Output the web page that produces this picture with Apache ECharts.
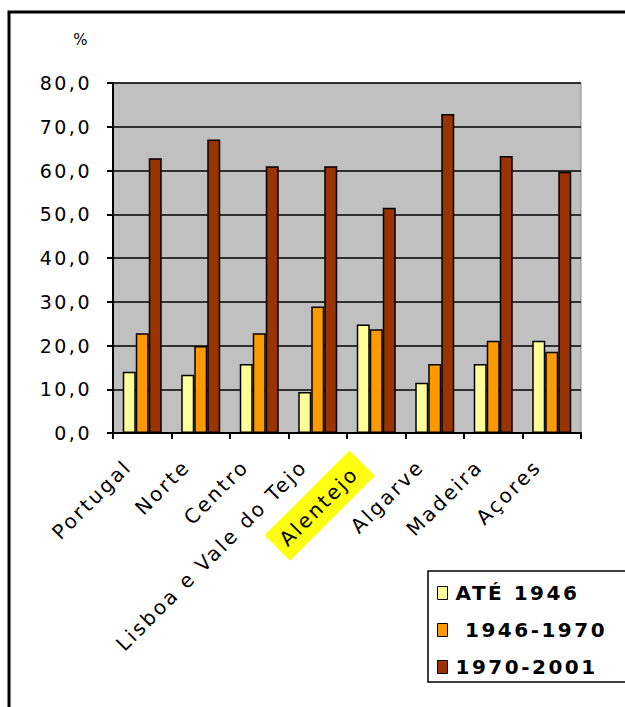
<!DOCTYPE html>
<html>
<head>
<meta charset="utf-8">
<script src="https://cdn.jsdelivr.net/npm/echarts@6/dist/echarts.min.js"></script>
<style>
  html, body { margin: 0; padding: 0; background: #fff; }
  #chart { width: 625px; height: 707px; }
  /* the labels are set in a wide, loosely tracked face */
  #chart svg text { letter-spacing: 2.5px; }
</style>
</head>
<body>
<div id="chart"></div>
<script>
// Regions and the share of buildings by construction period (%)
const regions = ['Portugal', 'Norte', 'Centro', 'Lisboa e Vale do Tejo', 'Alentejo', 'Algarve', 'Madeira', 'Açores'];
const seriesNames = ['ATÉ 1946', ' 1946-1970', '1970-2001'];
const ate1946 = [14.0, 13.3, 15.8, 9.4, 24.8, 11.5, 15.8, 21.1];
const p1946_1970 = [22.8, 19.9, 22.8, 28.9, 23.7, 15.8, 21.1, 18.6];
const p1970_2001 = [62.8, 67.1, 61.0, 61.0, 51.5, 72.9, 63.3, 59.7];
const highlighted = 'Alentejo';

const colors = ['#FFFF99', '#FF9900', '#993300'];
const values = [ate1946, p1946_1970, p1970_2001];

const chart = echarts.init(document.getElementById('chart'), null, { renderer: 'svg' });

const wideFont = '"DejaVu Sans", Verdana, sans-serif';

chart.setOption({
  animation: false,
  backgroundColor: '#fff',
  grid: {
    left: 113, top: 83, width: 468, height: 350,
    show: true, backgroundColor: '#c0c0c0', borderColor: '#8a8a8a', borderWidth: 1
  },
  legend: {
    orient: 'vertical',
    left: 437, top: 581, padding: 0,
    itemWidth: 10, itemHeight: 13, itemGap: 13,
    icon: 'rect',
    itemStyle: { borderColor: '#000', borderWidth: 1 },
    textStyle: {
      fontFamily: wideFont, fontWeight: 'bold', fontSize: 20, lineHeight: 24,
      color: '#000', padding: [0, 0, 0, 3]
    },
    data: seriesNames
  },
  xAxis: {
    type: 'category',
    data: regions,
    axisLine: { lineStyle: { color: '#000', width: 2 } },
    axisTick: { show: true, interval: 0, length: 6, lineStyle: { color: '#000', width: 2 } },
    axisLabel: {
      interval: 0, rotate: 45, margin: 16,
      fontFamily: wideFont, fontSize: 20, color: '#000',
      padding: [0, 20, 0, 0],
      formatter: v => v === highlighted ? '{hl|' + v + '}' : v,
      rich: {
        hl: {
          backgroundColor: '#ffff10', padding: [8, 10, 8, 28],
          fontFamily: wideFont, fontSize: 20, color: '#000'
        }
      }
    }
  },
  yAxis: {
    type: 'value',
    min: 0, max: 80, interval: 10,
    name: '%',
    nameLocation: 'end',
    nameGap: 36,
    nameTextStyle: { fontFamily: wideFont, fontSize: 15, color: '#000', align: 'right', padding: [0, 23, 0, 0] },
    axisLine: { show: true, lineStyle: { color: '#000', width: 2 } },
    axisTick: { show: true, length: 6, lineStyle: { color: '#000', width: 2 } },
    axisLabel: {
      fontFamily: wideFont, fontSize: 19, color: '#000', margin: 21,
      formatter: v => v.toFixed(1).replace('.', ',')
    },
    splitLine: { show: true, lineStyle: { color: '#000', width: 1.6 } }
  },
  series: seriesNames.map((name, i) => ({
    name: name,
    type: 'bar',
    data: values[i],
    barWidth: 13,
    barGap: '0%',
    itemStyle: { color: colors[i], borderColor: '#000', borderWidth: 1.5 }
  })),
  graphic: [
    {
      type: 'rect', z: 100, silent: true,
      shape: { x: 9, y: 12, width: 700, height: 800 },
      style: { fill: 'none', stroke: '#000', lineWidth: 3 }
    },
    {
      type: 'rect', z: 100, silent: true,
      shape: { x: 428, y: 571, width: 260, height: 111 },
      style: { fill: 'none', stroke: '#000', lineWidth: 1.5 }
    }
  ]
});
</script>
</body>
</html>
